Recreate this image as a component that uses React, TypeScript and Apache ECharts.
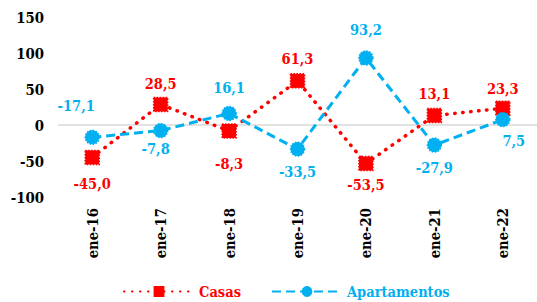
import React, { useEffect, useRef } from "react";
import * as echarts from "echarts";

const categories = ["ene-16", "ene-17", "ene-18", "ene-19", "ene-20", "ene-21", "ene-22"];
const casas = [-45.0, 28.5, -8.3, 61.3, -53.5, 13.1, 23.3];
const apartamentos = [-17.1, -7.8, 16.1, -33.5, 93.2, -27.9, 7.5];
const yTicks = { min: -100, max: 150, interval: 50 };

// label placement (style only)
const casasLabelPos: [string, number, number[]][] = [
  ["bottom", 11, [0, 0]],
  ["top", 6, [0, 0]],
  ["bottom", 17, [0, 0]],
  ["top", 7, [0, 0]],
  ["bottom", 6, [0, 0]],
  ["top", 7, [0, 0]],
  ["top", 4, [0, 0]],
];
const aptLabelPos: [string, number, number[]][] = [
  ["top", 17, [-16, 0]],
  ["bottom", 3, [-5, 0]],
  ["top", 11, [0, 0]],
  ["bottom", 7, [0, 0]],
  ["top", 13, [0, 0]],
  ["bottom", 7, [0, 0]],
  ["bottom", 6, [11, 0]],
];

const FONT = "'DejaVu Serif Condensed', 'DejaVu Serif', serif";
const RED = "#FF0000";
const BLUE = "#00B0F0";

function fmt(v: number) {
  return v.toFixed(1).replace(".", ",");
}

export default function App() {
  const ref = useRef<HTMLDivElement>(null);
  useEffect(() => {
    if (!ref.current) return;
    const chart = echarts.init(ref.current, undefined, { renderer: "svg" });
    const mk = (vals: number[], pos: [string, number, number[]][]) =>
      vals.map((v, i) => ({
        value: v,
        label: { position: pos[i][0], distance: pos[i][1], offset: pos[i][2] },
      }));
    chart.setOption({
      animation: false,
      grid: { left: 58, right: -4, top: 17, bottom: 105 },
      legend: {
        left: 123,
        top: 284,
        padding: 0,
        itemWidth: 70,
        itemHeight: 11,
        itemGap: 30,
        textStyle: { fontFamily: FONT, fontWeight: "bold", fontSize: 14.5 },
        data: [
          { name: "Casas", textStyle: { color: RED } },
          { name: "Apartamentos", textStyle: { color: BLUE } },
        ],
      },
      xAxis: {
        type: "category",
        data: categories,
        axisLine: { show: false },
        axisTick: { show: false },
        axisLabel: {
          rotate: 90,
          margin: 11,
          color: "#000",
          fontFamily: FONT,
          fontWeight: "bold",
          fontSize: 14.7,
        },
      },
      yAxis: {
        type: "value",
        min: yTicks.min,
        max: yTicks.max,
        interval: yTicks.interval,
        axisLine: { show: false },
        axisTick: { show: false },
        splitLine: { show: false },
        axisLabel: {
          margin: 14,
          color: "#000",
          fontFamily: FONT,
          fontWeight: "bold",
          fontSize: 14.8,
        },
      },
      series: [
        {
          name: "Casas",
          type: "line",
          data: mk(casas, casasLabelPos),
          symbol: "rect",
          symbolSize: 14,
          z: 3,
          lineStyle: { color: RED, width: 3.5, type: [0.5, 7.5], cap: "round" },
          itemStyle: { color: RED, borderColor: RED, borderWidth: 1.5, borderType: "dotted" },
          label: {
            show: true,
            color: RED,
            fontFamily: FONT,
            fontWeight: "bold",
            fontSize: 14.5,
            formatter: (p: any) => fmt(p.value),
          },
          markLine: {
            silent: true,
            symbol: "none",
            label: { show: false },
            lineStyle: { color: "#D9D9D9", width: 1.5, type: "solid" },
            data: [{ yAxis: 0 }],
            z: 1,
          },
        },
        {
          name: "Apartamentos",
          type: "line",
          data: mk(apartamentos, aptLabelPos),
          symbol: "circle",
          symbolSize: 14,
          z: 4,
          lineStyle: { color: BLUE, width: 3, type: [9, 5] },
          itemStyle: { color: BLUE, borderColor: BLUE, borderWidth: 1.5, borderType: "dotted" },
          label: {
            show: true,
            color: BLUE,
            fontFamily: FONT,
            fontWeight: "bold",
            fontSize: 14.5,
            formatter: (p: any) => fmt(p.value),
          },
        },
      ],
    });
    return () => chart.dispose();
  }, []);
  return (
    <div
      ref={ref}
      style={{ position: "fixed", left: 0, top: 0, width: 537, height: 302, background: "#fff" }}
    />
  );
}
